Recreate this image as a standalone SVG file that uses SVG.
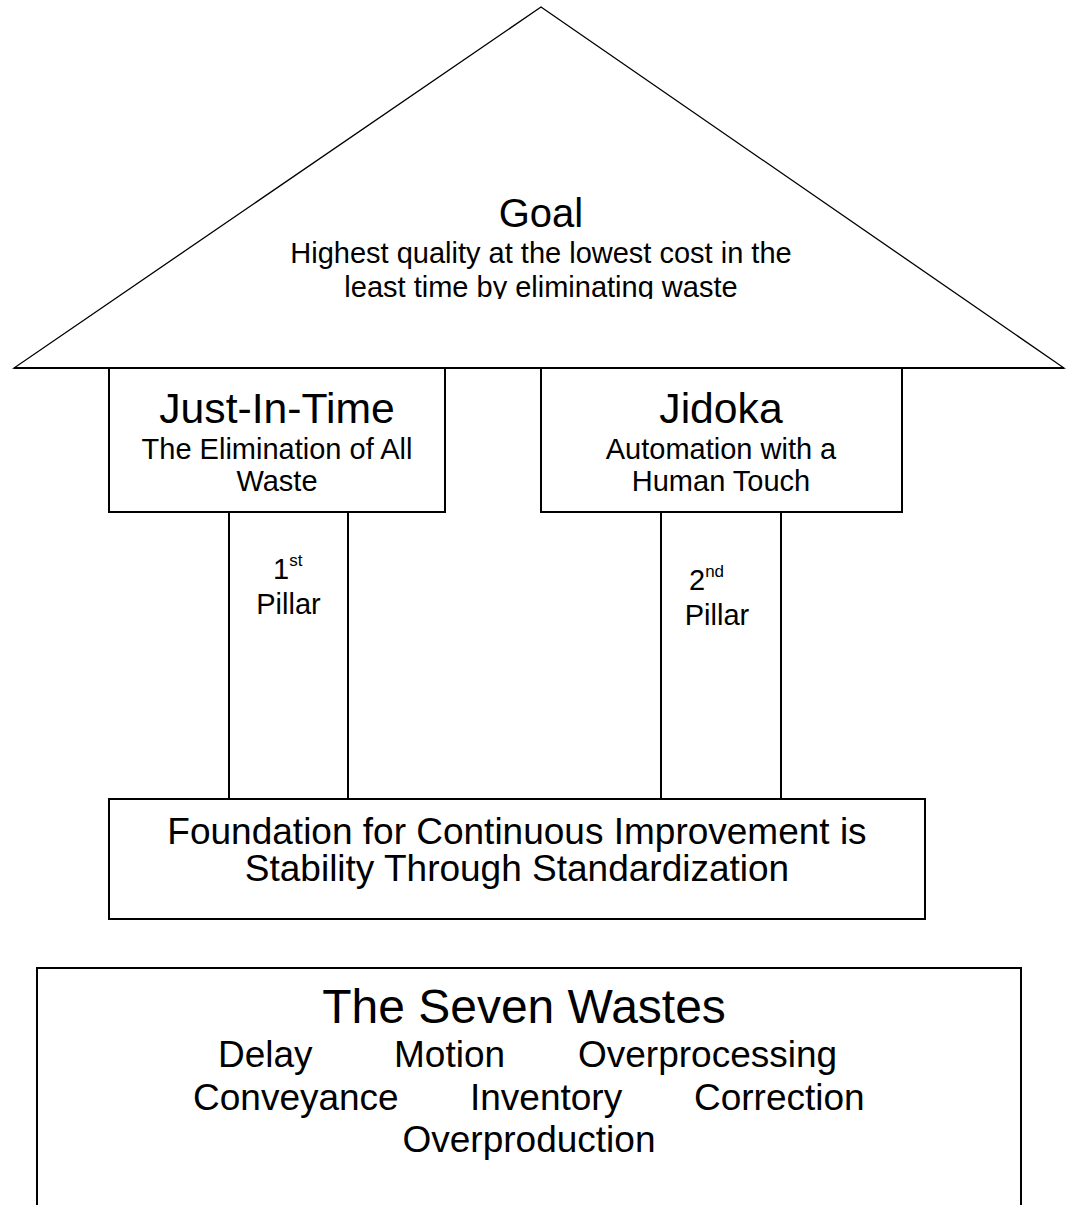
<svg xmlns="http://www.w3.org/2000/svg" width="1067" height="1205" viewBox="0 0 1067 1205">
  <style>
    .shape { fill: #ffffff; stroke: #000000; stroke-width: 2; }
    .thin { fill: #ffffff; stroke: #000000; stroke-width: 1.3; }
    .edge { fill: none; stroke: #000000; stroke-width: 2; }
    text { font-family: "Liberation Sans", Arial, sans-serif; fill: #000000; text-anchor: middle; }
    .h1 { font-size: 42.7px; }
    .h0 { font-size: 40px; }
    .sub { font-size: 29px; }
    .mid { font-size: 37px; }
    .big { font-size: 48px; }
    .sup { font-size: 17px; }
    .start { text-anchor: start; }
  </style>
  <defs>
    <clipPath id="roofClip">
      <rect x="0" y="0" width="1067" height="299"/>
    </clipPath>
  </defs>

  <!-- Roof: goal of the system -->
  <g id="roof">
    <polygon class="thin" points="541,7 14,368 1064,368"/>
    <line class="edge" x1="14" y1="368" x2="1064" y2="368" stroke-width="2.5"/>
    <text class="h0" x="541" y="227">Goal</text>
    <g clip-path="url(#roofClip)">
      <text class="sub" x="541" y="263">Highest quality at the lowest cost in the</text>
      <text class="sub" x="541" y="297">least time by eliminating waste</text>
    </g>
  </g>

  <!-- Pillar capitals -->
  <g id="jit">
    <rect class="shape" x="109" y="368" width="336" height="144"/>
    <text class="h1" x="277" y="423">Just-In-Time</text>
    <text class="sub" x="277" y="459">The Elimination of All</text>
    <text class="sub" x="277" y="491">Waste</text>
  </g>
  <g id="jidoka">
    <rect class="shape" x="541" y="368" width="361" height="144"/>
    <text class="h1" x="721" y="423">Jidoka</text>
    <text class="sub" x="721" y="459">Automation with a</text>
    <text class="sub" x="721" y="491">Human Touch</text>
  </g>

  <!-- Pillar shafts -->
  <g id="pillar1">
    <rect class="shape" x="229" y="512" width="119" height="287"/>
    <text class="sub start" x="273" y="579">1<tspan class="sup" dy="-13">st</tspan></text>
    <text class="sub" x="288.5" y="614">Pillar</text>
  </g>
  <g id="pillar2">
    <rect class="shape" x="661" y="512" width="120" height="287"/>
    <text class="sub start" x="689" y="590">2<tspan class="sup" dy="-13">nd</tspan></text>
    <text class="sub" x="717" y="625">Pillar</text>
  </g>

  <!-- Foundation -->
  <g id="foundation">
    <rect class="shape" x="109" y="799" width="816" height="120"/>
    <text class="mid" x="517" y="844">Foundation for Continuous Improvement is</text>
    <text class="mid" x="517" y="881">Stability Through Standardization</text>
  </g>

  <!-- Seven wastes panel -->
  <g id="wastes">
    <rect class="shape" x="37" y="968" width="984" height="260"/>
    <text class="big" x="524" y="1023">The Seven Wastes</text>
    <text class="mid start" x="218" y="1067">Delay</text>
    <text class="mid start" x="394" y="1067">Motion</text>
    <text class="mid start" x="578" y="1067">Overprocessing</text>
    <text class="mid start" x="193" y="1110">Conveyance</text>
    <text class="mid start" x="470" y="1110">Inventory</text>
    <text class="mid start" x="694" y="1110">Correction</text>
    <text class="mid" x="529" y="1152">Overproduction</text>
  </g>

  <!-- No connectors: the structure is formed by stacked shapes -->
  <g id="connectors"/>
</svg>
